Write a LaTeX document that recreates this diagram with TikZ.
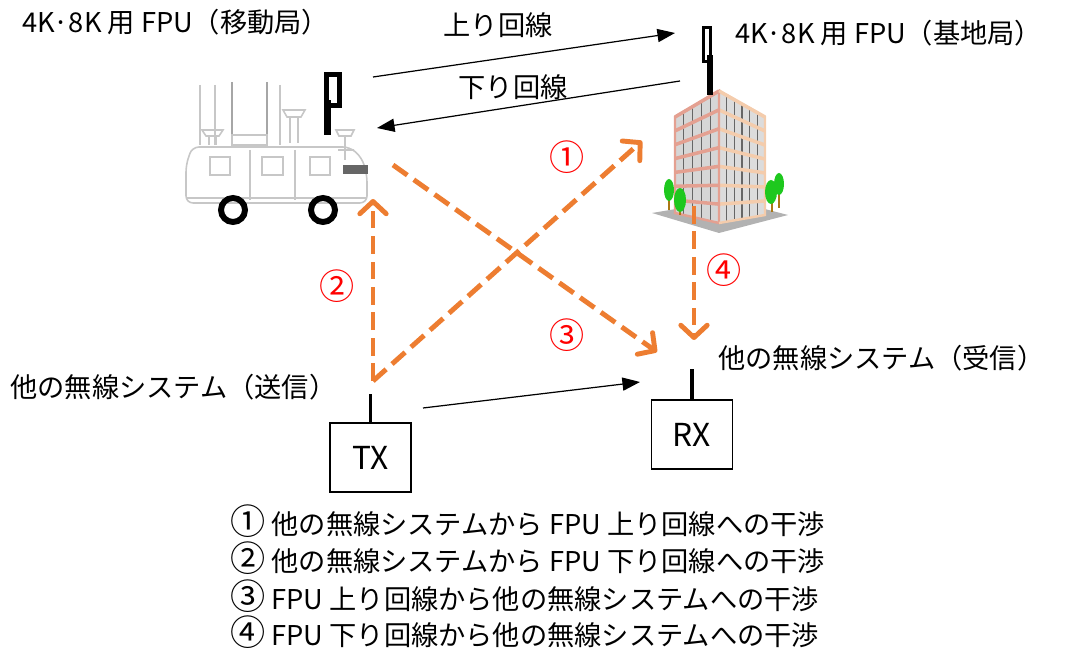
\documentclass[tikz,border=0pt]{standalone}
\usepackage{fontspec}
\setmainfont{Noto Sans CJK JP}
\usetikzlibrary{arrows.meta}
\definecolor{intforange}{RGB}{237,125,49}
\definecolor{bldpink}{RGB}{228,160,145}
\definecolor{bldpeach}{RGB}{244,204,172}
\definecolor{bldglass}{RGB}{214,214,214}
\definecolor{treegreen}{RGB}{30,200,30}
\definecolor{trunkbrown}{RGB}{170,120,20}
\newcommand{\circnum}[1]{{\fontsize{20}{18}\selectfont #1}}

\begin{document}
\begin{tikzpicture}[x=0.02cm, y=-0.02cm,
	lbl/.style={inner sep=0pt, font=\fontsize{15.5}{18}\selectfont},
	num/.style={inner sep=0pt, text=red, font=\fontsize{20}{18}\selectfont},
	radio/.style={draw, line width=0.6pt, minimum width=1.62cm, minimum height=1.38cm, font=\fontsize{18}{20}\selectfont},
	link/.style={line width=0.7pt, -{Triangle[length=10pt,width=7.5pt]}},
	intf/.style={draw=intforange, line width=2.8pt, dash pattern=on 10pt off 4.5pt,
		-{Straight Barb[length=7pt,width=15pt,round]}},
	truck/.style={draw=black!22, line width=0.9pt}]
\useasboundingbox (0,0) rectangle (1069,648);

% mobile station (truck)
\draw[truck] (200,85) -- (200,145) (215,85) -- (215,145) (280,85) -- (280,145);
\draw[truck, draw=black!35] (232,82) -- (232,145) (267,82) -- (267,145);
\draw[truck] (232,135) rectangle (267,145);
\draw[truck] (283,110) -- (305,110) -- (301,117) -- (287,117) -- cycle (290,117) -- (290,143) (298,117) -- (298,143);
\draw[truck] (202,130) -- (223,130) -- (219,136) -- (206,136) -- cycle (209,136) -- (209,145) (216,136) -- (216,145);
\draw[truck] (336,130) -- (354,130) -- (351,136) -- (339,136) -- cycle (345,136) -- (345,160) (338,150) -- (354,150);
\draw[truck, rounded corners=4] (186,203) -- (186,165) -- (192,147) -- (350,147) -- (362,158) -- (367,175) -- (367,203) -- cycle;
\draw[truck] (210,157) rectangle (230,175) (262,157) rectangle (283,175) (310,157) rectangle (330,175);
\draw[truck] (250,150) -- (250,200) (295,150) -- (295,200) (186,198) -- (367,198);
\fill[black!60] (343,165) rectangle (368,174);
\draw[line width=3.4pt] (233,210) circle (12) (323,210) circle (12);
\draw[line width=2.5pt] (326.5,74.5) rectangle (339.5,105.5);
\fill (324,100) rectangle (331,135);

% base station (building)
\fill[black!30] (652,213) -- (719,233) -- (788,215) -- (730,200) -- cycle;
\fill[bldglass] (675,117) -- (719,91) -- (719,223) -- (675,213) -- cycle;
\fill[bldglass!85] (719,91) -- (765,117) -- (765,215) -- (719,223) -- cycle;
\foreach \u in {0.2,0.4,0.6,0.8}
	\draw[black!60, line width=0.6pt] ({675+44*\u},{117-26*\u}) -- ({675+44*\u},{213+10*\u});
\foreach \u in {0.167,0.333,0.5,0.667,0.833}
	\draw[black!60, line width=0.6pt] ({719+46*\u},{91+26*\u}) -- ({719+46*\u},{223-8*\u});
\foreach \v in {0,0.143,0.286,0.429,0.571,0.714,0.857}
	\draw[bldpink, line width=2pt] (675,{117+97*\v}) -- (719,{91+132*\v});
\foreach \v in {0,0.143,0.286,0.429,0.571,0.714,0.857}
	\draw[bldpeach, line width=2pt] (719,{91+132*\v}) -- (765,{117+98*\v});
\draw[bldpink, line width=1.4pt] (675,117) -- (719,91) -- (719,223) -- (675,213) -- cycle;
\draw[bldpeach, line width=1.4pt] (719,91) -- (765,117) -- (765,215) -- (719,223);
\draw[trunkbrown, line width=1.2pt] (669,190) -- (669,210) (680,195) -- (680,215) (772,185) -- (772,212) (779,180) -- (779,208);
\fill[treegreen] (669,190) ellipse (5 and 11) (680,200) ellipse (6 and 12) (771,192) ellipse (6 and 12) (779,184) ellipse (5 and 11);
\draw[line width=2.2pt] (703.5,27.5) rectangle (710.5,61.5);
\fill (707,55) rectangle (713,95);

% labels
\node[lbl, anchor=west] (mobile) at (22,22) {4K·8K 用 FPU（移動局）};
\node[lbl, anchor=west] (base) at (735,33) {4K·8K 用 FPU（基地局）};
\node[lbl] (uplbl) at (498,25) {上り回線};
\node[lbl] (downlbl) at (513,87) {下り回線};
\node[lbl, anchor=west] (txlbl) at (10,387) {他の無線システム（送信）};
\node[lbl, anchor=west] (rxlbl) at (718,358) {他の無線システム（受信）};

% other radio system
\node[radio] (TX) at (370.5,457.5) {TX};
\node[radio] (RX) at (692,434.5) {RX};
\draw[line width=2.2pt] (TX.north) -- ++(0,-28);
\draw[line width=2.2pt] (RX.north) -- ++(0,-30);

\coordinate (upS) at (373,77);
\coordinate (upE) at (675,33);
\coordinate (dnS) at (680,81);
\coordinate (dnE) at (377,128);
\coordinate (txS) at (423,408);
\coordinate (txE) at (640,382);
\draw[link] (upS) -- (upE);
\draw[link] (dnS) -- (dnE);
\draw[link] (txS) -- (txE);

% interference paths
\coordinate (txtop) at (373,381);
\coordinate (bldin) at (642,141);
\coordinate (trkin) at (373,199);
\coordinate (trkout) at (393,165);
\coordinate (rxin) at (657,352);
\coordinate (bldout) at (694,206);
\coordinate (rxtop) at (694,340);
\draw[intf] (txtop) -- (bldin);
\draw[intf] (txtop) -- (trkin);
\draw[intf] (trkout) -- (rxin);
\draw[intf] (bldout) -- (rxtop);
\node[num] (n1) at (567,157) {①};
\node[num] (n2) at (337,286) {②};
\node[num] (n3) at (567,335) {③};
\node[num] (n4) at (724,270) {④};

% legend
\node[lbl, anchor=west] (leg1) at (230,521) {\circnum{①} 他の無線システムから FPU 上り回線への干渉};
\node[lbl, anchor=west] (leg2) at (230,558) {\circnum{②} 他の無線システムから FPU 下り回線への干渉};
\node[lbl, anchor=west] (leg3) at (230,596) {\circnum{③} FPU 上り回線から他の無線システムへの干渉};
\node[lbl, anchor=west] (leg4) at (230,632) {\circnum{④} FPU 下り回線から他の無線システムへの干渉};
\end{tikzpicture}
\end{document}
